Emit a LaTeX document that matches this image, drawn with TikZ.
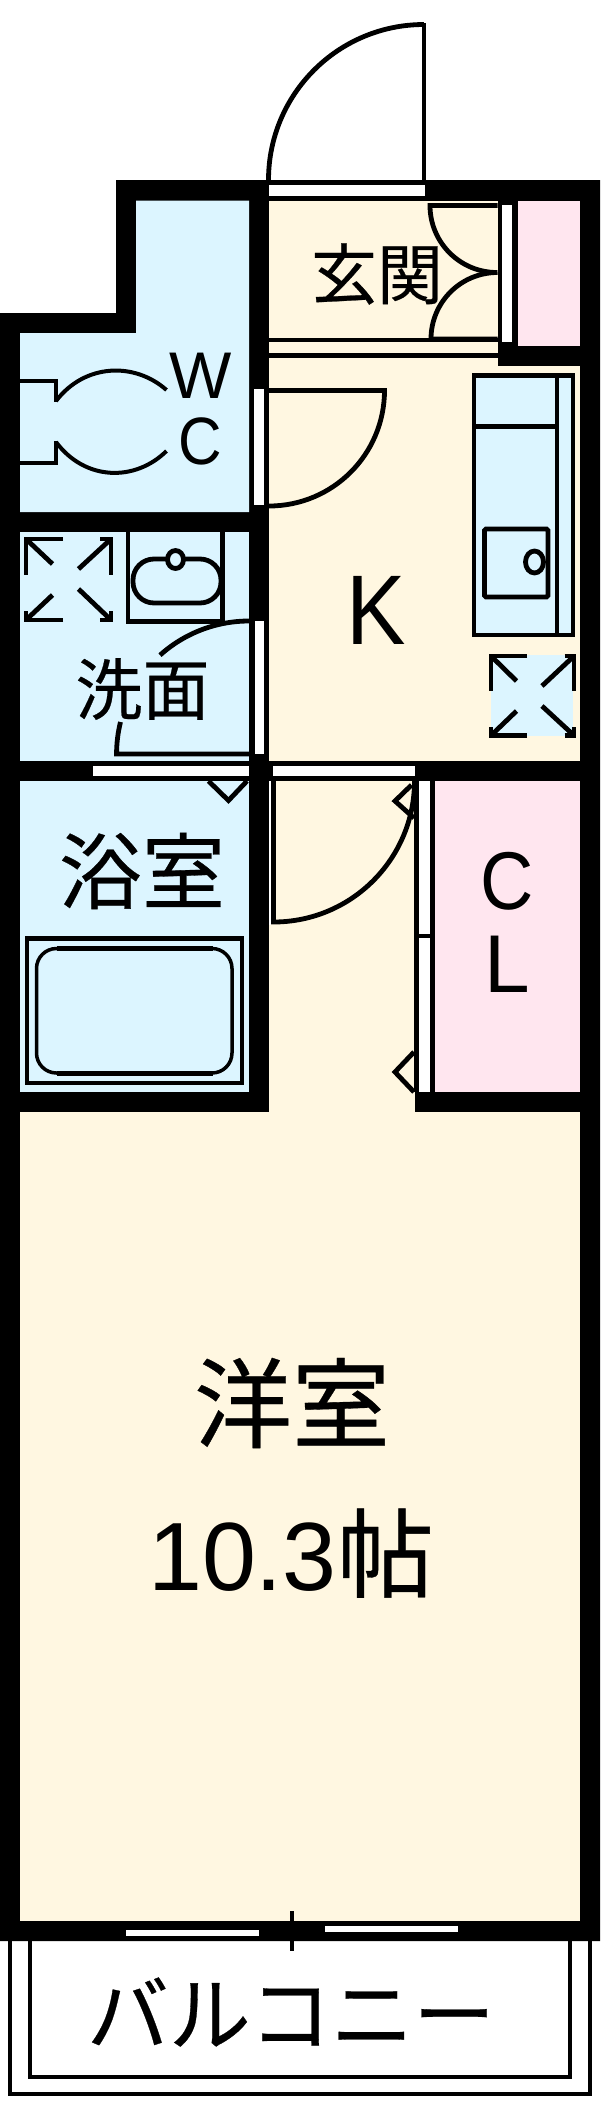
\documentclass[tikz,border=0pt]{standalone}
\usepackage{fontspec}
\setmainfont{Liberation Sans}
\newfontfamily\jp[FakeBold=0.35]{Noto Sans CJK JP}
\definecolor{cream}{HTML}{FFF7E1}
\definecolor{aqua}{HTML}{DCF5FF}
\definecolor{rose}{HTML}{FFE6EF}
\tikzset{
  wallfill/.style={fill=black,draw=none},
  room/.style={draw=none},
  glass/.style={fill=white,draw=none},
  fix/.style={draw=black,line width=4.8pt,line join=miter},
  thinfix/.style={draw=black,line width=4pt},
  jlabel/.style={inner sep=0pt,text=black,font=\jp},
  latin/.style={inner sep=0pt,text=black,anchor=base}
}
\newcommand{\sz}[1]{\fontsize{#1}{#1}\selectfont}
\newcommand{\nar}[1]{\scalebox{0.9}[1]{#1}}
\begin{document}
\begin{tikzpicture}[x=1pt,y=-1pt]
\useasboundingbox (0,0) rectangle (600,2121);
\fill[white] (0,0) rectangle (600,2121);
% balcony
\draw[fix,line width=3.5pt] (10,1940) -- (10,2094) -- (590,2094) -- (590,1940);
\draw[fix,line width=4.5pt] (30,1940) -- (30,2077) -- (570,2077) -- (570,1940);
% walls outline
\fill[wallfill] (116,180) -- (600,180) -- (600,1941) -- (0,1941) -- (0,313) -- (116,313) -- cycle;
% rooms
\fill[aqua] (136,200.5) -- (249,200.5) -- (249,512) -- (20,512) -- (20,333) -- (136,333) -- cycle;
\fill[cream] (269,200.5) rectangle (497.5,366);
\fill[cream] (269,366) rectangle (580,761);
\fill[rose] (517.5,200.5) rectangle (580,346);
\fill[aqua] (20,532) rectangle (249,761);
\fill[aqua] (20,781) rectangle (249,1092);
\fill[cream] (269,781) rectangle (414.5,1112);
\fill[rose] (434.5,781) rectangle (580,1092);
\fill[cream] (20,1112) rectangle (580,1921);
% glass
\fill[glass] (269,184.5) rectangle (425,195.5);
\fill[glass] (502,204.5) rectangle (512,341.5);
\fill[glass] (254,389) rectangle (264,505);
\fill[glass] (254.5,621) rectangle (264,754);
\fill[glass] (92.5,765.5) rectangle (249,775.5);
\fill[glass] (273,765.5) rectangle (415,775.5);
\fill[glass] (419,781) rectangle (429.5,934);
\fill[glass] (419,938) rectangle (429.5,1092);
\fill[glass] (125.5,1930) rectangle (259,1936);
\fill[glass] (325,1925.5) rectangle (457.5,1931.5);
\fill[glass] (269,781) rectangle (271,925);
% strips beside glass
\draw[thinfix,line width=5pt] (416.8,781) -- (416.8,1092);
\draw[thinfix,line width=5pt] (432,781) -- (432,1092);
% entrance door
\draw[thinfix,line width=4.5pt] (424,180) -- (424,23);
\draw[fix] (268.5,180) arc[start angle=180,end angle=90,radius=155.5pt];
% genkan lines
\draw[thinfix] (269,339.5) -- (497.5,339.5);
\draw[thinfix,line width=5pt] (269,355.5) -- (497.5,355.5);
% closet doors
\draw[fix] (497.5,205.5) -- (430,205.5) arc[start angle=180,end angle=270,radius=67pt];
\draw[fix] (497.5,339) -- (431,339) arc[start angle=180,end angle=90,radius=66.5pt];
% WC door
\draw[fix] (269,390.5) -- (384.5,390.5) arc[start angle=0,end angle=-90,radius=115.5pt];
% toilet
\draw[thinfix] (20,381) -- (55.5,381) -- (55.5,402);
\draw[thinfix] (20,463) -- (55.5,463) -- (55.5,441);
\draw[thinfix] (56,401) .. controls (85,363) and (135,362) .. (166.5,390);
\draw[thinfix] (56,442) .. controls (85,481) and (135,482) .. (166.5,451);
% kitchen
\filldraw[fill=aqua,fix] (474,375.5) rectangle (573,635);
\draw[fix] (557,375.5) -- (557,635);
\draw[fix] (474,426.5) -- (557,426.5);
\draw[fix,rounded corners=1.5pt] (484.5,529) rectangle (548,597);
\filldraw[fill=aqua,fix] (534.5,562) ellipse[x radius=9pt,y radius=11pt];
% kitchen vent
\fill[aqua] (491,655) rectangle (573,735.5);
\draw[fix] (527,656) -- (491,656) -- (491,691);
\draw[fix] (564.5,656) -- (574,656) -- (574,691);
\draw[fix] (527,735.5) -- (491,735.5) -- (491,727);
\draw[fix] (564.5,735.5) -- (574,735.5) -- (574,727);
\draw[fix] (491,656) -- (516.5,681);
\draw[fix] (574,656) -- (542,686);
\draw[fix] (491,735.5) -- (516.5,711);
\draw[fix] (574,735.5) -- (542,706);
% wash vent
\draw[fix] (63,539) -- (26,539) -- (26,575);
\draw[fix] (100,539) -- (111,539) -- (111,575);
\draw[fix] (63,620) -- (26,620) -- (26,611);
\draw[fix] (100,620) -- (111,620) -- (111,611);
\draw[fix] (26,539) -- (52.5,564);
\draw[fix] (111,539) -- (78.5,569);
\draw[fix] (26,620) -- (52.5,595);
\draw[fix] (111,620) -- (78.5,589);
% basin
\draw[fix] (128,532) -- (128,621.5) -- (222.5,621.5) -- (222.5,532);
\draw[fix,rounded corners=21pt] (133,559) rectangle (221,603);
\filldraw[fill=aqua,fix] (175.5,559.5) ellipse[x radius=8pt,y radius=9pt];
% wash door
\draw[thinfix] (251.5,621) -- (251.5,761);
\draw[fix] (249,621) arc[start angle=90,end angle=132,radius=133pt];
\draw[fix] (120.5,722) arc[start angle=166,end angle=180,radius=132pt] -- (249,754);
% bath door chevron
\draw[fix] (208.5,781) -- (228.5,800.5) -- (247,781);
% bath
\draw[fix] (27,938.5) rectangle (242,1083);
\draw[thinfix,line width=3.5pt,rounded corners=20pt] (36.5,948.5) rectangle (232,1073);
\draw[fix,line width=5pt] (56.5,948.5) -- (212.5,948.5);
\draw[fix,line width=5pt] (56.5,1073) -- (212.5,1073);
% hall door
\draw[fix] (273.5,781) -- (273.5,922) arc[start angle=270,end angle=360,radius=141pt];
% closet chevrons
\draw[fix] (411.5,785) -- (395,801) -- (414,818);
\draw[fix] (414,1052) -- (395,1072) -- (414,1092);
% balcony door tick
\draw[thinfix] (291.5,1911) -- (291.5,1951);
% text
\node[jlabel] (genkan) at (377,274) {\sz{66}玄関};
\node[jlabel] (senmen) at (142.5,689) {\sz{67}洗面};
\node[jlabel] (yokushitsu) at (142,871) {\sz{83}浴室};
\node[jlabel] (yoshitsu) at (292,1403) {\sz{98}洋室};
\node[latin] (tatami) at (291,1590) {\sz{97}10.3{\jp 帖}};
\node[jlabel] (balcony) at (291,2012) {\sz{82}バルコニー};
\node[latin] (wc1) at (201,398) {\sz{66}W};
\node[latin] (wc2) at (200,464) {\sz{67}\nar{C}};
\node[latin] (kk) at (376,644) {\sz{99}\nar{K}};
\node[latin] (cl1) at (507,909) {\sz{82}\nar{C}};
\node[latin] (cl2) at (507,992) {\sz{82}L};
\end{tikzpicture}
\end{document}
